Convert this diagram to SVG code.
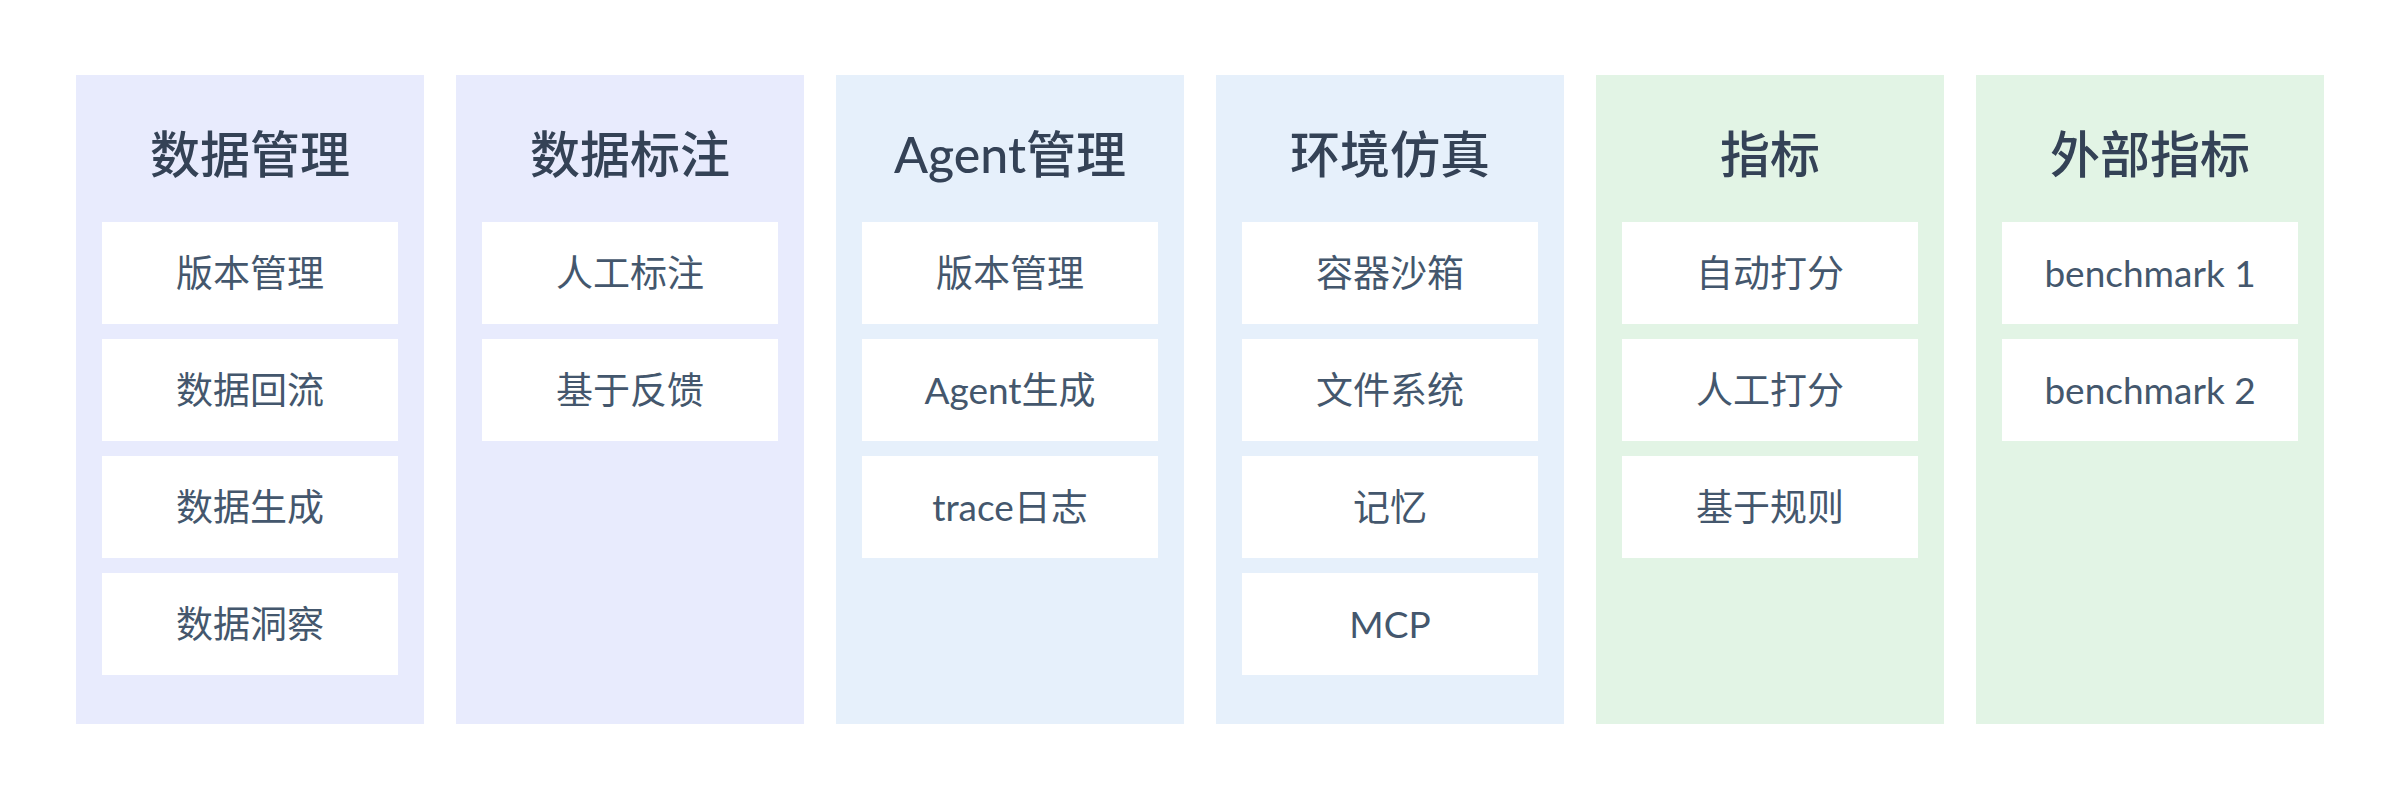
<svg xmlns="http://www.w3.org/2000/svg" width="2400" height="800" viewBox="0 0 2400 800">
<style>
.c1{fill:#E8EBFD}.c2{fill:#E6F0FB}.c3{fill:#E2F4E5}
.box{fill:#FFFFFF}
.t{font-family:Lato,"Noto Sans CJK SC",sans-serif;font-size:50px;font-weight:500;fill:#344256;text-anchor:middle}
.i{font-family:Lato,"Noto Sans CJK SC",sans-serif;font-size:37px;fill:#44576D;text-anchor:middle}
</style>
<rect width="2400" height="800" fill="#FFFFFF"/>
<g id="col-data-mgmt">
<rect class="c1" x="76" y="75" width="348" height="649"/>
<text class="t" x="250" y="173">数据管理</text>
<rect class="box" x="102" y="222" width="296" height="102"/><text class="i" x="250" y="287">版本管理</text>
<rect class="box" x="102" y="339" width="296" height="102"/><text class="i" x="250" y="404">数据回流</text>
<rect class="box" x="102" y="456" width="296" height="102"/><text class="i" x="250" y="521">数据生成</text>
<rect class="box" x="102" y="573" width="296" height="102"/><text class="i" x="250" y="638">数据洞察</text>
</g>
<g id="col-data-label">
<rect class="c1" x="456" y="75" width="348" height="649"/>
<text class="t" x="630" y="173">数据标注</text>
<rect class="box" x="482" y="222" width="296" height="102"/><text class="i" x="630" y="287">人工标注</text>
<rect class="box" x="482" y="339" width="296" height="102"/><text class="i" x="630" y="404">基于反馈</text>
</g>
<g id="col-agent">
<rect class="c2" x="836" y="75" width="348" height="649"/>
<text class="t" x="1010" y="173">Agent管理</text>
<rect class="box" x="862" y="222" width="296" height="102"/><text class="i" x="1010" y="287">版本管理</text>
<rect class="box" x="862" y="339" width="296" height="102"/><text class="i" x="1010" y="404">Agent生成</text>
<rect class="box" x="862" y="456" width="296" height="102"/><text class="i" x="1010" y="521">trace日志</text>
</g>
<g id="col-env">
<rect class="c2" x="1216" y="75" width="348" height="649"/>
<text class="t" x="1390" y="173">环境仿真</text>
<rect class="box" x="1242" y="222" width="296" height="102"/><text class="i" x="1390" y="287">容器沙箱</text>
<rect class="box" x="1242" y="339" width="296" height="102"/><text class="i" x="1390" y="404">文件系统</text>
<rect class="box" x="1242" y="456" width="296" height="102"/><text class="i" x="1390" y="521">记忆</text>
<rect class="box" x="1242" y="573" width="296" height="102"/><text class="i" x="1390" y="638">MCP</text>
</g>
<g id="col-metrics">
<rect class="c3" x="1596" y="75" width="348" height="649"/>
<text class="t" x="1770" y="173">指标</text>
<rect class="box" x="1622" y="222" width="296" height="102"/><text class="i" x="1770" y="287">自动打分</text>
<rect class="box" x="1622" y="339" width="296" height="102"/><text class="i" x="1770" y="404">人工打分</text>
<rect class="box" x="1622" y="456" width="296" height="102"/><text class="i" x="1770" y="521">基于规则</text>
</g>
<g id="col-external">
<rect class="c3" x="1976" y="75" width="348" height="649"/>
<text class="t" x="2150" y="173">外部指标</text>
<rect class="box" x="2002" y="222" width="296" height="102"/><text class="i" x="2150" y="287">benchmark 1</text>
<rect class="box" x="2002" y="339" width="296" height="102"/><text class="i" x="2150" y="404">benchmark 2</text>
</g>
<g id="connectors"/>
</svg>
